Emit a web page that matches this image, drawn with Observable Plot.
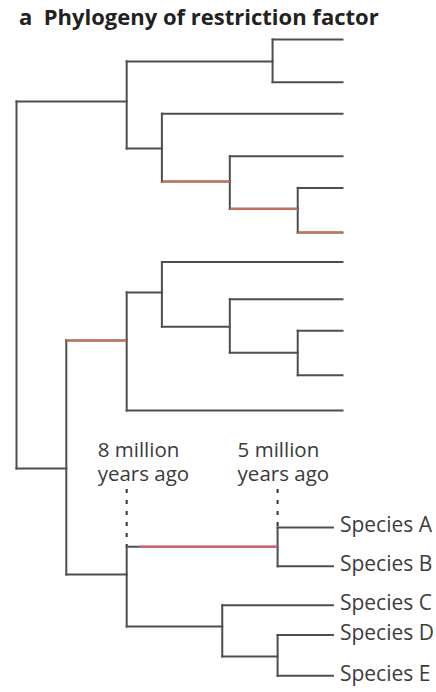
<!DOCTYPE html>
<html>
<head>
<meta charset="utf-8">
<script src="https://cdn.jsdelivr.net/npm/d3@7"></script>
<script src="https://cdn.jsdelivr.net/npm/@observablehq/plot@0.6"></script>
<style>
  html, body { margin: 0; padding: 0; background: #fff; width: 436px; height: 692px; overflow: hidden; }
  #title { height: 32px; line-height: 32px; padding-left: 19px; font-family: "Open Sans", sans-serif; font-weight: 700; font-size: 22px; color: #222; white-space: nowrap; }
  #chart svg { display: block; overflow: visible; }
</style>
</head>
<body>
<div id="title">a&nbsp; Phylogeny of restriction factor</div>
<div id="chart"></div>
<script>
// ---- Data ----
// Tree nodes: id, parent, divergence time (schematic, million years ago), vertical row position
const nodeIds  = ["R","N1","N1a","L1","L2","N1b","L3","N1c","L4","N1d","L5","L6",
                  "N2","M1","M2","L7","M3","L8","M4","L9","L10","L11",
                  "S1","S2","A","B","S3","C","S4","D","E"];
const parentIds = [null,"R","N1","N1a","N1a","N1","N1b","N1b","N1c","N1c","N1d","N1d",
                  "R","N2","M1","M2","M2","M3","M3","M4","M4","M1",
                  "N2","S1","S2","S2","S1","S3","S3","S4","S4"];
const timesMya = [10.19,8.0,5.1,3.71,3.71,7.3,3.71,5.95,3.71,4.6,3.71,3.71,
                  9.2,8.0,7.3,3.71,5.95,3.71,4.6,3.71,3.71,3.71,
                  8.0,5.0,3.9,3.9,6.1,3.9,5.0,3.9,3.9];
const rows     = [6.1,1.67,0.59,0,1.15,2.94,2.0,3.83,3.15,4.56,4.0,5.2,
                  11.56,8.11,6.82,6.0,7.74,7.0,8.44,7.85,9.05,10.0,
                  14.42,13.67,13.15,14.2,15.82,15.25,16.63,16.05,17.15];
// Branches with restriction-factor change (red)
const redBranchesUpper = ["N1c","N1d","L6","M1"];
const redBranchesSpecies = ["S2"];
const redStartMya = {S2: 7.75};
// Leaf labels
const speciesIds = ["A","B","C","D","E"];
const speciesLabels = ["Species A","Species B","Species C","Species D","Species E"];
// Time annotations
const annotTimes = [8, 5];
const annotLabels = ["8 million\nyears ago", "5 million\nyears ago"];

// ---- Build tables ----
const nodes = nodeIds.map((id, i) => ({id, parent: parentIds[i], t: timesMya[i], y: rows[i]}));
const byId = new Map(nodes.map(d => [d.id, d]));
const childrenOf = id => nodes.filter(c => c.parent === id);
const horiz = nodes.filter(d => d.parent).map(d => {
  const p = byId.get(d.parent);
  return {id: d.id, x1: p.t, x2: d.t, y: d.y};
});
const verts = nodes.filter(d => childrenOf(d.id).length).map(d => {
  const ys = childrenOf(d.id).map(c => c.y);
  return {id: d.id, x: d.t, y1: d3.min(ys), y2: d3.max(ys)};
});
const upperRed = horiz.filter(d => redBranchesUpper.includes(d.id));
const speciesRed = horiz.filter(d => redBranchesSpecies.includes(d.id)).map(d => ({...d, x1: redStartMya[d.id] ?? d.x1}));
const leaves = speciesIds.map((id, i) => ({...byId.get(id), label: speciesLabels[i]}));
const s2 = byId.get("S2");
const s2minChild = d3.min(childrenOf("S2"), c => c.y);
// 8 Mya line meets the red branch; 5 Mya line meets the top of the A/B split
const annots = annotTimes.map((t, i) => ({t, label: annotLabels[i], yEnd: i === 0 ? s2.y : s2minChild}));
const dashTop = 12.13;

const gray = "#4e4e4e";
const chart = Plot.plot({
  width: 436,
  height: 660,
  marginLeft: 16,
  marginRight: 94,
  marginTop: 7,
  marginBottom: 16.7,
  x: {domain: [10.19, 3.71], axis: null},
  y: {domain: [0, 17.15], reverse: true, axis: null},
  style: {fontFamily: "Open Sans, sans-serif", background: "white", overflow: "visible"},
  marks: [
    Plot.ruleX(annots, {x: "t", y1: dashTop, y2: "yEnd", stroke: "#333", strokeWidth: 2, strokeDasharray: "4,7"}),
    Plot.link(horiz, {x1: "x1", x2: "x2", y1: "y", y2: "y", stroke: gray, strokeWidth: 2, strokeLinecap: "square"}),
    Plot.link(verts, {x1: "x", x2: "x", y1: "y1", y2: "y2", stroke: gray, strokeWidth: 2, strokeLinecap: "square"}),
    Plot.link(upperRed, {x1: "x1", x2: "x2", y1: "y", y2: "y", stroke: "#cc6e58", strokeWidth: 2}),
    Plot.link(speciesRed, {x1: "x1", x2: "x2", y1: "y", y2: "y", stroke: "#d6627a", strokeWidth: 2.2}),
    Plot.text(leaves, {x: "t", y: "y", text: "label", textAnchor: "start", dx: 7, dy: -2, fontSize: 21, fill: "#3c3c3c"}),
    Plot.text(annots.slice(0,1), {x: "t", y: s2.y, text: "label", textAnchor: "start", lineAnchor: "bottom", lineHeight: 1.15, dx: -29, dy: -66, fontSize: 20.5, fill: "#3a3a3a"}),
    Plot.text(annots.slice(1,2), {x: "t", y: s2.y, text: "label", textAnchor: "start", lineAnchor: "bottom", lineHeight: 1.15, dx: -40, dy: -66, fontSize: 20.5, fill: "#3a3a3a"})
  ]
});
document.getElementById("chart").appendChild(chart);
</script>
</body>
</html>
